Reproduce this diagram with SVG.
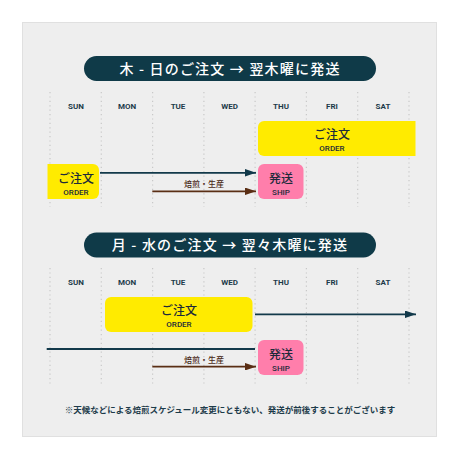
<svg xmlns="http://www.w3.org/2000/svg" width="460" height="460" viewBox="0 0 460 460">
<defs>
<style>
.day{font-family:"Roboto","Noto Sans",sans-serif;font-weight:700;font-size:8px;fill:#1d3b4a;text-anchor:middle}
.ttl{font-family:"Noto Sans CJK JP",sans-serif;font-weight:500;font-size:14px;fill:#ffffff;text-anchor:middle;letter-spacing:1.2px}
.jp{font-family:"Noto Sans CJK JP",sans-serif;font-weight:500;font-size:12px;fill:#1d2a3a;text-anchor:middle}
.en{font-family:"Roboto","Noto Sans",sans-serif;font-weight:500;font-size:8px;fill:#1d2a3a;text-anchor:middle}
.lbl{font-family:"Noto Sans CJK JP",sans-serif;font-weight:500;font-size:8px;fill:#4a2a18;text-anchor:middle}
.note{font-family:"Noto Sans CJK JP",sans-serif;font-weight:700;font-size:8.5px;fill:#1d3b4a;text-anchor:middle}
.grid{stroke:#c8c8c8;stroke-width:1.2;stroke-dasharray:1.2 3.2}
.teal{stroke:#12394a;stroke-width:1.8;fill:none}
.brown{stroke:#5a2e14;stroke-width:1.8;fill:none}
.yel{fill:#ffeb00}
.pink{fill:#ff7eab}
</style>
<marker id="ah" viewBox="0 0 10 8" refX="10" refY="4" markerWidth="11" markerHeight="7.5" markerUnits="userSpaceOnUse" orient="auto" preserveAspectRatio="none"><path d="M0,0 L10,4 L0,8 Z" fill="#12394a"/></marker>
<marker id="ahb" viewBox="0 0 10 8" refX="10" refY="4" markerWidth="11" markerHeight="7.5" markerUnits="userSpaceOnUse" orient="auto" preserveAspectRatio="none"><path d="M0,0 L10,4 L0,8 Z" fill="#5a2e14"/></marker>
</defs>
<rect x="0" y="0" width="460" height="460" fill="#ffffff"/>
<rect x="22.5" y="22.5" width="414" height="414" fill="#eeeeee" stroke="#e0e0e0" stroke-width="1"/>

<!-- Section 1 -->
<g id="title1">
<rect x="84" y="56" width="292" height="25" rx="12.5" fill="#0f3a48"/>
<text x="230" y="73.5" class="ttl">木 - 日のご注文 → 翌木曜に発送</text>
</g>
<g id="grid1">
<line x1="50" y1="92" x2="50" y2="207" class="grid"/>
<line x1="101.3" y1="92" x2="101.3" y2="207" class="grid"/>
<line x1="152.6" y1="92" x2="152.6" y2="207" class="grid"/>
<line x1="203.9" y1="92" x2="203.9" y2="207" class="grid"/>
<line x1="255.1" y1="92" x2="255.1" y2="207" class="grid"/>
<line x1="306.4" y1="92" x2="306.4" y2="207" class="grid"/>
<line x1="357.7" y1="92" x2="357.7" y2="207" class="grid"/>
<line x1="409" y1="92" x2="409" y2="207" class="grid"/>
</g>
<g id="days1">
<text x="76" y="109" class="day">SUN</text>
<text x="127" y="109" class="day">MON</text>
<text x="178" y="109" class="day">TUE</text>
<text x="229.5" y="109" class="day">WED</text>
<text x="281" y="109" class="day">THU</text>
<text x="332" y="109" class="day">FRI</text>
<text x="383" y="109" class="day">SAT</text>
</g>
<g id="order1a">
<path d="M264,121 H415.5 V156 H264 A6,6 0 0 1 258,150 V127 A6,6 0 0 1 264,121 Z" class="yel"/>
<text x="332" y="138.5" class="jp">ご注文</text>
<text x="332" y="150.5" class="en">ORDER</text>
</g>
<g id="order1b">
<path d="M47.5,164 H93 A6,6 0 0 1 99,170 V193 A6,6 0 0 1 93,199 H47.5 Z" class="yel"/>
<text x="76" y="182.5" class="jp">ご注文</text>
<text x="76" y="194.5" class="en">ORDER</text>
</g>
<g id="ship1">
<rect x="258" y="164" width="45.5" height="35" rx="6" class="pink"/>
<text x="281" y="183" class="jp">発送</text>
<text x="281" y="195" class="en">SHIP</text>
</g>

<!-- Section 2 -->
<g id="title2">
<rect x="84" y="232.5" width="292" height="25" rx="12.5" fill="#0f3a48"/>
<text x="230" y="250" class="ttl">月 - 水のご注文 → 翌々木曜に発送</text>
</g>
<g id="grid2">
<line x1="50" y1="268" x2="50" y2="384" class="grid"/>
<line x1="101.3" y1="268" x2="101.3" y2="384" class="grid"/>
<line x1="152.6" y1="268" x2="152.6" y2="384" class="grid"/>
<line x1="203.9" y1="268" x2="203.9" y2="384" class="grid"/>
<line x1="255.1" y1="268" x2="255.1" y2="384" class="grid"/>
<line x1="306.4" y1="268" x2="306.4" y2="384" class="grid"/>
<line x1="357.7" y1="268" x2="357.7" y2="384" class="grid"/>
<line x1="409" y1="268" x2="409" y2="384" class="grid"/>
</g>
<g id="days2">
<text x="76" y="285" class="day">SUN</text>
<text x="127" y="285" class="day">MON</text>
<text x="178" y="285" class="day">TUE</text>
<text x="229.5" y="285" class="day">WED</text>
<text x="281" y="285" class="day">THU</text>
<text x="332" y="285" class="day">FRI</text>
<text x="383" y="285" class="day">SAT</text>
</g>
<g id="order2">
<rect x="105" y="297" width="147.5" height="35" rx="6" class="yel"/>
<text x="179" y="314.5" class="jp">ご注文</text>
<text x="179" y="326.5" class="en">ORDER</text>
</g>
<g id="ship2">
<rect x="258" y="340" width="45.5" height="35" rx="6" class="pink"/>
<text x="281" y="359" class="jp">発送</text>
<text x="281" y="371" class="en">SHIP</text>
</g>

<g id="connectors">
<line x1="100" y1="172.8" x2="256" y2="172.8" class="teal" marker-end="url(#ah)"/>
<line x1="152.3" y1="191.3" x2="256" y2="191.3" class="brown" marker-end="url(#ahb)"/>
<text x="204" y="187" class="lbl">焙煎・生産</text>
<line x1="255" y1="314.3" x2="416" y2="314.3" class="teal" marker-end="url(#ah)"/>
<line x1="46.7" y1="349" x2="255" y2="349" class="teal"/>
<line x1="152.3" y1="366.7" x2="256" y2="366.7" class="brown" marker-end="url(#ahb)"/>
<text x="204" y="362.5" class="lbl">焙煎・生産</text>
</g>

<text x="230" y="413" class="note">※天候などによる焙煎スケジュール変更にともない、発送が前後することがございます</text>
</svg>
